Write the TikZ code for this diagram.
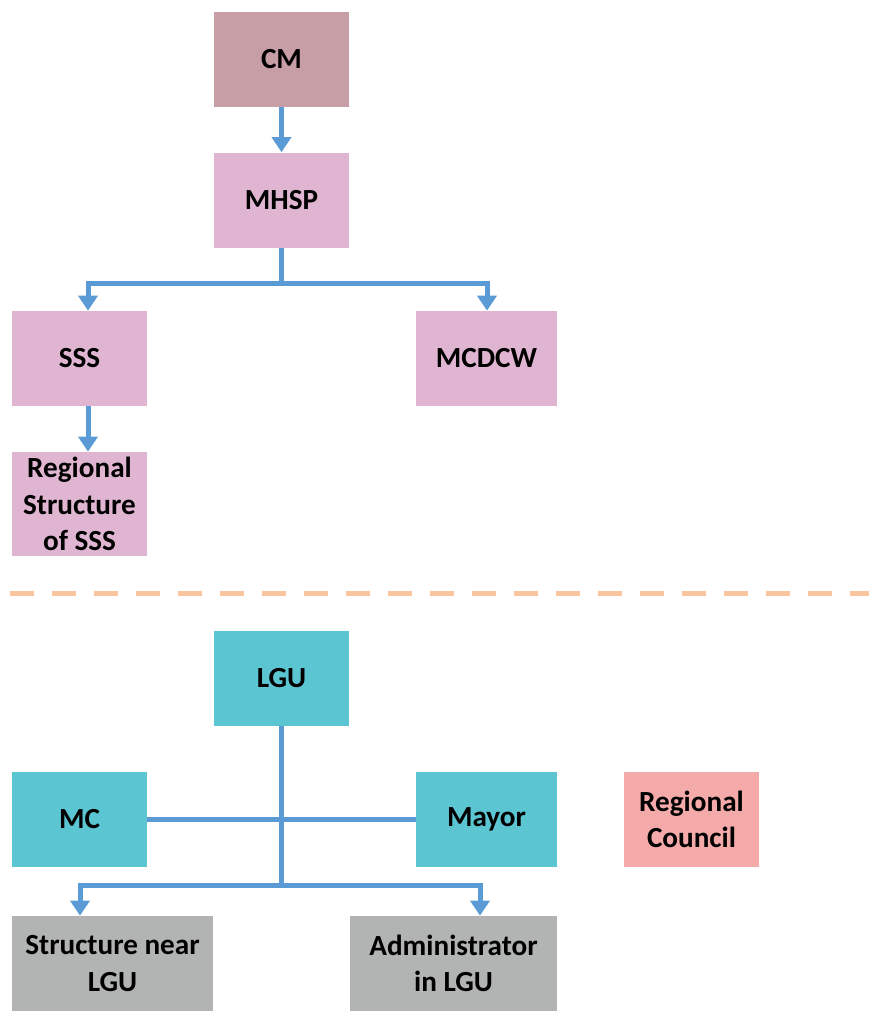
\documentclass[tikz,border=0pt]{standalone}
\usepackage{fontspec}
\setmainfont{Carlito}
\usetikzlibrary{calc,arrows.meta}
\definecolor{cmrose}{HTML}{C79DA6}
\definecolor{pinkbox}{HTML}{DFB5D1}
\definecolor{tealbox}{HTML}{5BC5D1}
\definecolor{redbox}{HTML}{F5AAAA}
\definecolor{graybox}{HTML}{B2B4B4}
\definecolor{linkblue}{HTML}{5B9BD5}
\definecolor{peach}{HTML}{F9C49E}
\tikzstyle{box}=[rectangle,inner sep=1pt,align=center,font=\fontsize{16.6}{20.8}\selectfont\bfseries,minimum width=2.7cm,minimum height=1.9cm]
\tikzstyle{ministry}=[box,fill=pinkbox]
\tikzstyle{local}=[box,fill=tealbox]
\tikzstyle{lower}=[box,fill=graybox]
\tikzstyle{link}=[draw=linkblue,line width=0.1cm]
\tikzstyle{arr}=[link,-{Triangle[width=0.38cm,length=0.3cm]}]

\begin{document}
\begin{tikzpicture}
		\useasboundingbox (0,0) rectangle (17.38,-20.26);
		% upper part
		\node[box,fill=cmrose] (cm) at (5.63,-1.19) {CM};
		\node[ministry] (mhsp) at (5.63,-4.0) {MHSP};
		\node[ministry] (sss) at (1.59,-7.17) {SSS};
		\node[ministry,minimum width=2.82cm] (mcdcw) at (9.73,-7.17) {MCDCW};
		\node[ministry,minimum height=2.08cm] (regsss) at (1.59,-10.08) {Regional\\Structure\\of SSS};
		\coordinate (jl) at (1.76,-5.66);
		\coordinate (jr) at (9.74,-5.66);
		\draw[arr] (cm.south) -- (mhsp.north);
		\draw[link] (mhsp.south) -- (mhsp.south |- jl);
		\draw[link] (jl) -- (jr);
		\draw[arr] ([yshift=0.05cm]jl) -- (jl |- sss.north);
		\draw[arr] ([yshift=0.05cm]jr) -- (jr |- mcdcw.north);
		\draw[arr] (jl |- sss.south) -- (jl |- regsss.north);
		% separator
		\coordinate (sepl) at (0.2,-11.86);
		\coordinate (sepr) at (17.38,-11.86);
		\draw[peach,line width=0.1cm,dash pattern=on 0.48cm off 0.36cm] (sepl) -- (sepr);
		% lower part
		\node[local] (lgu) at (5.63,-13.57) {LGU};
		\node[local] (mc) at (1.59,-16.39) {MC};
		\node[local,minimum width=2.82cm] (mayor) at (9.73,-16.39) {Mayor};
		\node[box,fill=redbox] (rc) at (13.83,-16.39) {Regional\\Council};
		\node[lower,minimum width=4.02cm] (snl) at (2.25,-19.27) {Structure near\\LGU};
		\node[lower,minimum width=4.14cm] (adm) at (9.07,-19.27) {Administrator\\in LGU};
		\coordinate (kl) at (1.6,-17.7);
		\coordinate (kr) at (9.6,-17.7);
		\draw[link] (lgu.south) -- (lgu.south |- kl);
		\draw[link] (mc.east) -- (mayor.west);
		\draw[link] (kl) -- (kr);
		\draw[arr] ([yshift=0.05cm]kl) -- (kl |- snl.north);
		\draw[arr] ([yshift=0.05cm]kr) -- (kr |- adm.north);
	\end{tikzpicture}
\end{document}
